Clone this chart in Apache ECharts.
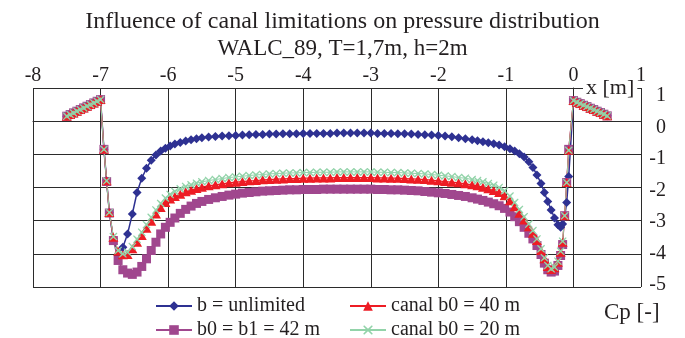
<!DOCTYPE html>
<html>
<head>
<meta charset="utf-8">
<script src="https://cdn.jsdelivr.net/npm/echarts@6/dist/echarts.min.js"></script>
<style>
  html, body { margin: 0; padding: 0; background: #fff; }
  #chart { width: 685px; height: 338px; }
</style>
</head>
<body>
<div id="chart"></div>
<script>
// x positions along the hull [m]
const xPos = [
  -7.50, -7.45, -7.40, -7.35, -7.30, -7.25, -7.20, -7.15, -7.10, -7.05, -7.00,
  -6.95, -6.91, -6.87, -6.81, -6.74,
  -6.67, -6.60, -6.53, -6.46, -6.39, -6.32, -6.25, -6.18, -6.11, -6.04, -5.97, -5.90, -5.82, -5.74, -5.66, -5.58, -5.50,
  -5.4, -5.3, -5.2, -5.1, -5.0, -4.9, -4.8, -4.7, -4.6, -4.5,
  -4.4, -4.3, -4.2, -4.1, -4.0, -3.9, -3.8, -3.7, -3.6, -3.5,
  -3.4, -3.3, -3.2, -3.1, -3.0, -2.9, -2.8, -2.7, -2.6, -2.5,
  -2.4, -2.3, -2.2, -2.1, -2.0, -1.9, -1.8, -1.7, -1.6, -1.5,
  -1.42, -1.34, -1.26, -1.18, -1.10, -1.02, -0.94, -0.87, -0.80, -0.73,
  -0.66, -0.60, -0.54, -0.48, -0.43, -0.38, -0.33, -0.28, -0.23, -0.19,
  -0.16, -0.13, -0.10, -0.07, 0.00,
  0.05, 0.10, 0.15, 0.20, 0.25, 0.30, 0.35, 0.40, 0.45, 0.50
];

// Cp, b = unlimited
const cpUnlimited = [
  0.15, 0.20, 0.25, 0.30, 0.35, 0.40, 0.45, 0.50, 0.55, 0.60, 0.65,
  -0.85, -1.80, -2.75, -3.55, -4.05,
  -3.80, -3.40, -2.80, -2.15, -1.72, -1.42, -1.18, -1.02, -0.90, -0.82, -0.75, -0.69, -0.64, -0.60, -0.56, -0.53, -0.50,
  -0.48, -0.46, -0.45, -0.44, -0.43, -0.42, -0.41, -0.40, -0.40, -0.39,
  -0.39, -0.38, -0.38, -0.38, -0.37, -0.37, -0.37, -0.37, -0.37, -0.36,
  -0.36, -0.36, -0.36, -0.36, -0.36, -0.37, -0.37, -0.37, -0.38, -0.38,
  -0.39, -0.40, -0.41, -0.42, -0.43, -0.45, -0.47, -0.50, -0.53, -0.56,
  -0.59, -0.62, -0.65, -0.68, -0.72, -0.77, -0.83, -0.90, -0.98, -1.08,
  -1.22, -1.40, -1.62, -1.88, -2.15, -2.42, -2.68, -2.92, -3.12, -3.20,
  -3.10, -2.88, -2.45, -1.67, 0.62,
  0.57, 0.53, 0.48, 0.44, 0.39, 0.35, 0.30, 0.26, 0.21, 0.16
];

// Cp, b0 = b1 = 42 m
const cpB42 = [
  0.15, 0.20, 0.25, 0.30, 0.35, 0.40, 0.45, 0.50, 0.55, 0.60, 0.65,
  -0.85, -1.82, -2.77, -3.60, -4.20,
  -4.48, -4.58, -4.62, -4.55, -4.38, -4.15, -3.90, -3.65, -3.40, -3.20, -3.05, -2.92, -2.78, -2.66, -2.56, -2.48, -2.42,
  -2.36, -2.31, -2.27, -2.23, -2.20, -2.17, -2.15, -2.13, -2.11, -2.10,
  -2.09, -2.08, -2.07, -2.07, -2.06, -2.06, -2.06, -2.05, -2.05, -2.05,
  -2.05, -2.05, -2.05, -2.05, -2.05, -2.06, -2.06, -2.07, -2.07, -2.08,
  -2.09, -2.10, -2.12, -2.14, -2.16, -2.18, -2.21, -2.24, -2.27, -2.31,
  -2.35, -2.39, -2.44, -2.49, -2.55, -2.63, -2.74, -2.88, -3.03, -3.20,
  -3.38, -3.55, -3.75, -4.02, -4.28, -4.48, -4.55, -4.52, -4.35, -4.05,
  -3.72, -2.85, -1.85, -0.85, 0.62,
  0.57, 0.53, 0.48, 0.44, 0.39, 0.35, 0.30, 0.26, 0.21, 0.16
];

// Cp, canal b0 = 40 m
const cpCanal40 = [
  0.15, 0.20, 0.25, 0.30, 0.35, 0.40, 0.45, 0.50, 0.55, 0.60, 0.65,
  -0.85, -1.80, -2.75, -3.50, -3.92,
  -4.03, -4.02, -3.85, -3.65, -3.45, -3.23, -3.02, -2.80, -2.60, -2.45, -2.35, -2.27, -2.20, -2.13, -2.08, -2.03, -1.99,
  -1.95, -1.92, -1.89, -1.86, -1.84, -1.82, -1.80, -1.79, -1.77, -1.76,
  -1.75, -1.74, -1.73, -1.73, -1.72, -1.72, -1.71, -1.71, -1.71, -1.70,
  -1.70, -1.70, -1.70, -1.70, -1.70, -1.71, -1.71, -1.72, -1.72, -1.73,
  -1.74, -1.75, -1.76, -1.78, -1.80, -1.82, -1.84, -1.86, -1.89, -1.92,
  -1.95, -1.99, -2.04, -2.09, -2.15, -2.25, -2.40, -2.58, -2.78, -2.98,
  -3.18, -3.38, -3.60, -3.90, -4.15, -4.38, -4.47, -4.42, -4.25, -3.95,
  -3.65, -2.85, -1.85, -0.88, 0.62,
  0.57, 0.53, 0.48, 0.44, 0.39, 0.35, 0.30, 0.26, 0.21, 0.16
];

// Cp, canal b0 = 20 m
const cpCanal20 = [
  0.15, 0.20, 0.25, 0.30, 0.35, 0.40, 0.45, 0.50, 0.55, 0.60, 0.65,
  -0.85, -1.80, -2.75, -3.48, -3.90,
  -4.00, -3.95, -3.78, -3.56, -3.35, -3.12, -2.90, -2.68, -2.48, -2.32, -2.21, -2.12, -2.04, -1.97, -1.92, -1.87, -1.83,
  -1.79, -1.76, -1.73, -1.70, -1.68, -1.66, -1.64, -1.62, -1.61, -1.59,
  -1.58, -1.57, -1.56, -1.56, -1.55, -1.55, -1.54, -1.54, -1.54, -1.53,
  -1.53, -1.53, -1.53, -1.53, -1.53, -1.54, -1.54, -1.55, -1.55, -1.56,
  -1.57, -1.58, -1.59, -1.61, -1.63, -1.65, -1.67, -1.70, -1.72, -1.76,
  -1.79, -1.83, -1.88, -1.93, -2.00, -2.10, -2.26, -2.45, -2.66, -2.88,
  -3.10, -3.30, -3.55, -3.85, -4.12, -4.35, -4.45, -4.40, -4.22, -3.92,
  -3.62, -2.85, -1.85, -0.88, 0.62,
  0.57, 0.53, 0.48, 0.44, 0.39, 0.35, 0.30, 0.26, 0.21, 0.16
];

const FONT = '"Liberation Serif", "Times New Roman", serif';
const TXT = '#231f20';
const GRIDC = '#2b2b2b';
// X mark for the 20 m series
const CROSS = 'path://M1 0L5 3.6L9 0L10 1L6.4 5L10 9L9 10L5 6.4L1 10L0 9L3.6 5L0 1Z';

const chart = echarts.init(document.getElementById('chart'));

function mkSeries(name, arr, color, symbol, size, width) {
  return {
    name: name,
    type: 'line',
    data: xPos.map((x, i) => [x, arr[i]]),
    symbol: symbol,
    symbolSize: size,
    showAllSymbol: true,
    itemStyle: { color: color },
    lineStyle: { color: color, width: width },
    emphasis: { disabled: true }
  };
}

// one legend box per entry, laid out 2 x 2 like the reference
function mkLegend(name, left, top) {
  return {
    data: [name],
    left: left,
    top: top,
    itemWidth: 36,
    itemHeight: 12,
    selectedMode: false,
    textStyle: { fontFamily: FONT, fontSize: 20, color: TXT }
  };
}

const option = {
  animation: false,
  backgroundColor: '#ffffff',
  title: {
    text: 'Influence of canal limitations on pressure distribution',
    subtext: 'WALC_89, T=1,7m, h=2m',
    left: 'center',
    top: 5,
    itemGap: 3,
    textStyle: { fontFamily: FONT, fontSize: 24, fontWeight: 'normal', color: TXT },
    subtextStyle: { fontFamily: FONT, fontSize: 23, color: TXT }
  },
  grid: { left: 33, right: 44, top: 88, bottom: 51 },
  xAxis: {
    type: 'value',
    position: 'top',
    min: -8,
    max: 1,
    interval: 1,
    axisLine: { show: true, lineStyle: { color: GRIDC, width: 1 } },
    axisTick: { show: false },
    splitLine: { show: true, lineStyle: { color: GRIDC, width: 1 } },
    axisLabel: { fontFamily: FONT, fontSize: 20, color: TXT, margin: 2 }
  },
  yAxis: [
    {
      type: 'value',
      position: 'right',
      min: -5,
      max: 1,
      interval: 1,
      axisLine: { show: true, lineStyle: { color: GRIDC, width: 1 } },
      axisTick: { show: false },
      axisLabel: { show: false },
      splitLine: { show: true, lineStyle: { color: GRIDC, width: 1 } }
    },
    {
      // label-only axis (labels in the reference are spaced a bit tighter than the grid)
      type: 'value',
      position: 'right',
      min: -5.06,
      max: 1.25,
      splitNumber: 6,
      axisLine: { show: false },
      axisTick: { show: false },
      splitLine: { show: false },
      axisLabel: {
        fontFamily: FONT, fontSize: 20, color: TXT,
        align: 'right', margin: 25,
        showMinLabel: false, showMaxLabel: false
      }
    }
  ],
  legend: [
    mkLegend('b = unlimited', 150, 291),
    mkLegend('b0 = b1 = 42 m', 150, 315),
    mkLegend('canal b0 = 40 m', 344, 291),
    mkLegend('canal b0 = 20 m', 344, 315)
  ],
  graphic: [
    {
      type: 'text',
      left: 583,
      top: 77,
      z: 1,
      style: {
        text: 'x [m]',
        font: '22px "Liberation Serif"',
        fill: TXT,
        backgroundColor: '#ffffff',
        padding: [0, 3, 0, 3],
        lineHeight: 20
      }
    },
    {
      type: 'text',
      left: 604,
      top: 301,
      style: { text: 'Cp [-]', font: '23px "Liberation Serif"', fill: TXT }
    }
  ],
  series: [
    mkSeries('b = unlimited', cpUnlimited, '#2e3192', 'diamond', 9, 1.5),
    mkSeries('b0 = b1 = 42 m', cpB42, '#a0478e', 'rect', 9, 1.2),
    mkSeries('canal b0 = 40 m', cpCanal40, '#ed1c24', 'triangle', [10, 9], 1.2),
    mkSeries('canal b0 = 20 m', cpCanal20, '#92d3a9', CROSS, 8, 1)
  ]
};

chart.setOption(option);
</script>
</body>
</html>
